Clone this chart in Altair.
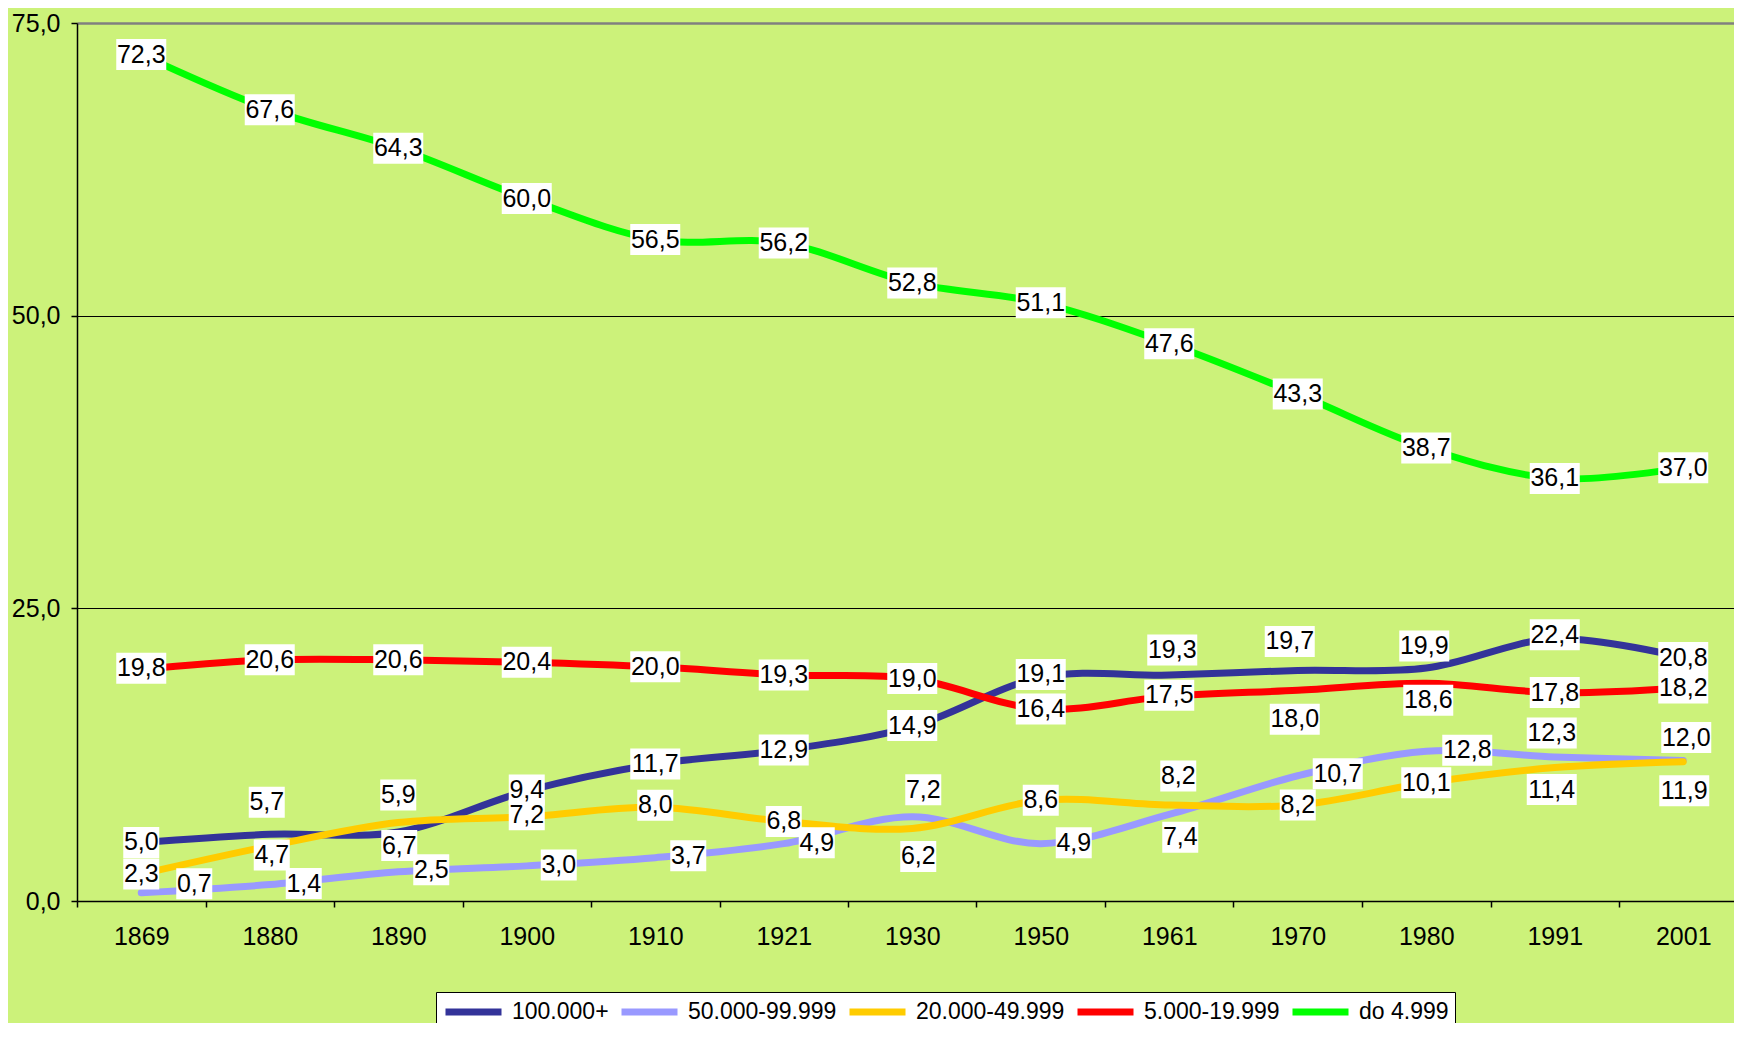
import altair as alt
import pandas as pd

# ---- data ----
years = ["1869", "1880", "1890", "1900", "1910", "1921", "1930",
         "1950", "1961", "1970", "1980", "1991", "2001"]
series_names = ["100.000+", "50.000-99.999", "20.000-49.999", "5.000-19.999", "do 4.999"]
series_colors = ["#333399", "#9999FF", "#FFCC00", "#FF0000", "#00FF00"]

v_100 = [5.0, 5.7, 5.9, 9.4, 11.7, 12.9, 14.9, 19.1, 19.3, 19.7, 19.9, 22.4, 20.8]
v_50 = [0.7, 1.4, 2.5, 3.0, 3.7, 4.9, 7.2, 4.9, 7.4, 10.7, 12.8, 12.3, 12.0]
v_20 = [2.3, 4.7, 6.7, 7.2, 8.0, 6.8, 6.2, 8.6, 8.2, 8.2, 10.1, 11.4, 11.9]
v_5 = [19.8, 20.6, 20.6, 20.4, 20.0, 19.3, 19.0, 16.4, 17.5, 18.0, 18.6, 17.8, 18.2]
v_0 = [72.3, 67.6, 64.3, 60.0, 56.5, 56.2, 52.8, 51.1, 47.6, 43.3, 38.7, 36.1, 37.0]
series_values = [v_100, v_50, v_20, v_5, v_0]

# ---- label placement (pixel offsets of each data label from its point) ----
off_100 = [(0, 0), (-3, -32), (0, -37), (0, -1), (0, 0), (0, 0), (0, -1), (0, -3),
           (3, -25), (-8, -29), (-2, -22), (0, -4), (0, 0)]
off_50 = [(53, -9), (34, -1), (33, -2), (32, -1), (33, -2), (33, -1), (11, -27), (33, -1),
          (11, 23), (40, -2), (41, -1), (-3, -24), (3, -23)]
off_20 = [(0, 0), (2, 9), (1, 23), (0, -2), (0, -2), (0, 0), (6, 28), (0, 0),
          (9, -29), (0, 0), (0, 0), (-3, 22), (1, 29)]
off_5 = [(0, -1), (0, 0), (0, 0), (0, 0), (0, 0), (0, 0), (0, 0), (0, 0),
         (0, -1), (-3, 29), (2, 17), (0, 0), (0, 0)]
off_0 = [(0, 0)] * 13
offsets = [off_100, off_50, off_20, off_5, off_0]

# ---- layout ----
W, H = 1657, 878
X_MAX = -0.5 + W / 128.5
PX_X = W / (X_MAX + 0.5)
PX_Y = H / 75.0
BG = "#CCF27A"
FONT = "Liberation Sans"

rows = []
for name, vals, offs in zip(series_names, series_values, offsets):
    for i, (v, (dx, dy)) in enumerate(zip(vals, offs)):
        lab = f"{v:.1f}".replace(".", ",")
        half = 1.0 if len(lab) >= 4 else 0.72
        rows.append({
            "series": name, "idx": i, "year": years[i], "value": v, "label": lab,
            "lx": i + dx / PX_X, "ly": v - dy / PX_Y,
            "box": f"M{-half},-0.62H{half}V0.62H{-half}Z",
        })
df = pd.DataFrame(rows)

xscale = alt.Scale(domain=[-0.5, X_MAX], nice=False, zero=False)
yscale = alt.Scale(domain=[0, 75], nice=False)

year_js = "[" + ",".join(f"'{y}'" for y in years) + "]"
x_vals = [k / 2 - 0.5 for k in range(26)]

x_axis = alt.Axis(
    values=x_vals, title=None, grid=False,
    labelExpr=f"datum.value % 1 === 0 ? {year_js}[datum.value] : ''",
    labelFontSize=25, labelFont=FONT, labelColor="black", labelPadding=17,
    labelOverlap=False, labelFlush=False,
    tickColor="black", tickSize=6, tickWidth=1.5,
    tickOpacity={"condition": {"test": "datum.value % 1 === 0", "value": 0}, "value": 1},
    domainColor="black", domainWidth=1.5,
)
y_axis = alt.Axis(
    values=[0, 25, 50, 75], title=None,
    labelExpr="replace(format(datum.value, '.1f'), '.', ',')",
    labelFontSize=25, labelFont=FONT, labelColor="black", labelPadding=11,
    tickColor="black", tickSize=6, tickWidth=1.5,
    domainColor="black", domainWidth=1.5,
    grid=True,
    gridColor={"condition": {"test": "datum.value === 75", "value": "#808080"}, "value": "black"},
    gridWidth={"condition": {"test": "datum.value === 75", "value": 2.5}, "value": 1},
)

lines = alt.Chart(df).mark_line(
    interpolate="cardinal", strokeWidth=7, strokeCap="round", strokeJoin="round"
).encode(
    x=alt.X("idx:Q", scale=xscale, axis=x_axis),
    y=alt.Y("value:Q", scale=yscale, axis=y_axis),
    color=alt.Color(
        "series:N",
        scale=alt.Scale(domain=series_names, range=series_colors),
        sort=series_names,
        legend=alt.Legend(
            title=None, orient="none", direction="horizontal",
            legendX=359, legendY=969,
            fillColor="white", strokeColor="black", padding=6,
            symbolType="stroke", symbolSize=3136, symbolStrokeWidth=7,
            clipHeight=28,
            labelFontSize=23, labelFont=FONT, labelColor="black",
            labelOffset=7, columnPadding=9, labelLimit=400,
        ),
    ),
    detail="series:N",
)

boxes = alt.Chart(df).mark_point(
    filled=True, color="white", opacity=1, strokeWidth=0, size=2500
).encode(
    x=alt.X("lx:Q", scale=xscale),
    y=alt.Y("ly:Q", scale=yscale),
    shape=alt.Shape("box:N", scale=None),
)

texts = alt.Chart(df).mark_text(
    fontSize=25, font=FONT, color="black", align="center", baseline="middle"
).encode(
    x=alt.X("lx:Q", scale=xscale),
    y=alt.Y("ly:Q", scale=yscale),
    text="label:N",
)

chart = alt.layer(lines, boxes, texts).properties(
    width=W, height=H,
    padding={"left": 69, "top": 15, "right": 0, "bottom": 122},
    autosize=alt.AutoSizeParams(type="none"),
    background=BG,
).configure_view(stroke=None)

chart.save("out.html", embed_options={"renderer": "svg", "actions": False})
